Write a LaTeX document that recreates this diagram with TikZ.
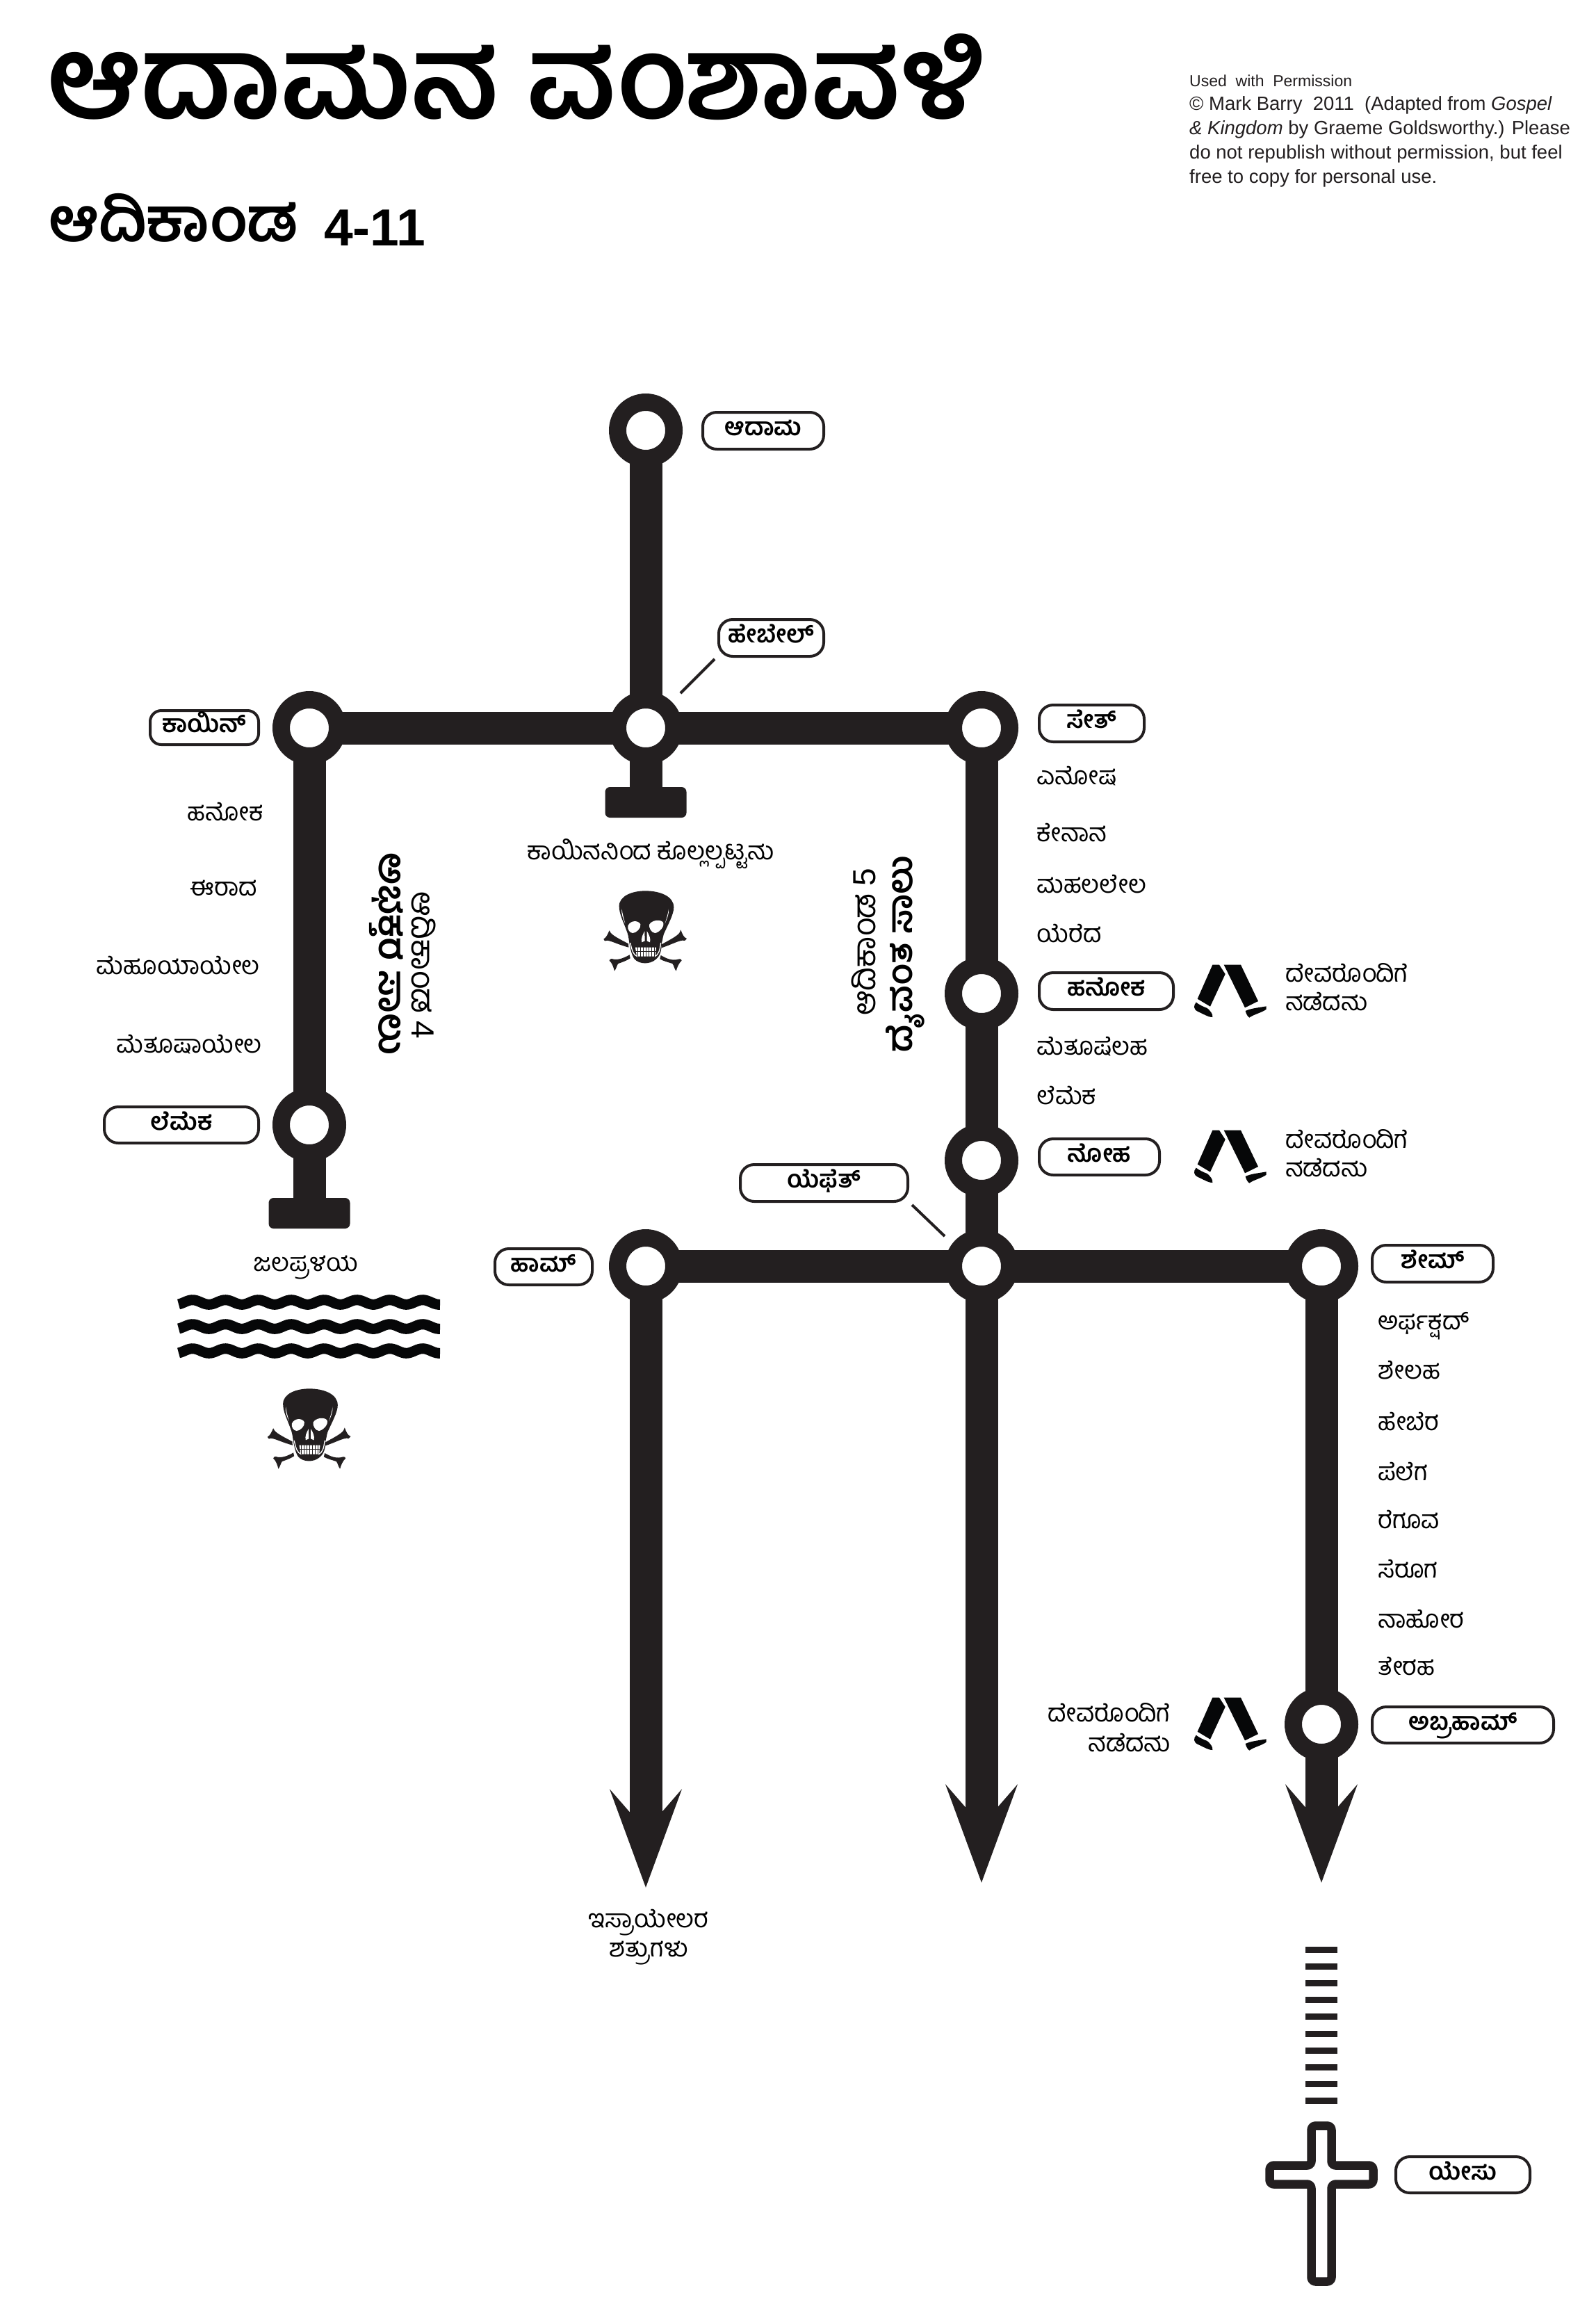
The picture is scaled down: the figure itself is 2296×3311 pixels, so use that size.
\documentclass[tikz,border=0pt]{standalone}
\usepackage{fontspec}
\usetikzlibrary{arrows.meta}
\setmainfont{Liberation Sans}
\newfontfamily\kn[Script=Kannada]{Hind Mysuru}
\definecolor{ink}{HTML}{231F20}
\definecolor{nearblack}{HTML}{060708}
\tikzset{
  hub/.style={circle,draw=ink,line width=25pt,fill=white,minimum size=81pt,inner sep=0pt,outer sep=0pt},
  trunk/.style={draw=ink,line width=47pt},
  stopbar/.style={fill=ink,rounded corners=7pt,minimum width=117pt,minimum height=44pt,inner sep=0pt},
  namebox/.style={draw=ink,line width=4pt,fill=white,rounded corners=20pt,inner sep=0pt,text=black,
     font=\kn\bfseries\fontsize{35}{40}\selectfont,text height=27pt,text depth=13pt},
  person/.style={inner sep=0pt,text=black,font=\kn\fontsize{36}{40}\selectfont,text height=29pt,text depth=11pt},
  leader/.style={draw=ink,line width=4pt},
  vert/.style={inner sep=0pt,text=black,font=\kn\fontsize{50}{56}\selectfont,anchor=center},
  small/.style={inner sep=0pt,anchor=base west,text=ink,font=\fontsize{27.5}{30}\selectfont},
}
\newcommand{\skullmark}[2]{%
\begin{scope}[shift={(#1,#2)},x=0.3333pt,y=-0.3333pt]
 \fill[ink] (50,175) .. controls (55,190) and (70,200) .. (132,232) -- (133,248) .. controls (85,235) and (65,222) .. (40,218) .. controls (35,222) and (28,222) .. (25,212) .. controls (38,205) and (42,190) .. (50,175) -- cycle;
 \fill[ink] (358,172) .. controls (355,190) and (340,200) .. (275,235) -- (275,250) .. controls (320,235) and (340,222) .. (365,218) .. controls (372,222) and (380,218) .. (384,210) .. controls (370,205) and (365,190) .. (358,172) -- cycle;
 \fill[ink] (137,280) .. controls (110,295) and (85,305) .. (60,297) .. controls (55,297) and (50,300) .. (50,305) .. controls (62,315) and (68,335) .. (72,350) .. controls (80,340) and (82,325) .. (88,318) .. controls (105,312) and (125,305) .. (140,295) -- cycle;
 \fill[ink] (272,282) .. controls (295,295) and (320,308) .. (352,298) .. controls (358,297) and (362,300) .. (362,305) .. controls (350,315) and (342,335) .. (338,350) .. controls (330,340) and (328,325) .. (322,318) .. controls (305,312) and (285,308) .. (268,298) -- cycle;
 \fill[ink] (125,178) .. controls (112,140) and (92,105) .. (92,70) .. controls (92,25) and (150,4) .. (205,4) .. controls (270,4) and (328,28) .. (328,75) .. controls (328,105) and (305,145) .. (285,190) .. controls (280,205) and (280,215) .. (276,228) .. controls (275,265) and (268,285) .. (250,300) .. controls (225,322) and (180,322) .. (158,298) .. controls (145,280) and (140,250) .. (135,222) .. controls (133,205) and (130,190) .. (125,178) -- cycle;
 \fill[white] (104,82) .. controls (100,105) and (110,125) .. (118,145) .. controls (112,120) and (106,105) .. (104,82) -- cycle;
 \fill[white] (306,82) .. controls (308,105) and (298,125) .. (290,145) .. controls (297,120) and (303,105) .. (306,82) -- cycle;
 \fill[white] (130,155) .. controls (140,130) and (175,130) .. (184,148) .. controls (188,165) and (165,187) .. (150,186) .. controls (138,185) and (127,170) .. (130,155) -- cycle;
 \fill[white] (222,150) .. controls (232,130) and (270,125) .. (282,140) .. controls (290,160) and (262,185) .. (247,186) .. controls (232,185) and (220,165) .. (222,150) -- cycle;
 \fill[white] (202,178) .. controls (195,190) and (185,210) .. (190,226) -- (203,220) -- cycle;
 \fill[white] (212,178) .. controls (220,190) and (230,210) .. (225,226) -- (212,220) -- cycle;
 \draw[white,line width=1.3pt] (140,228) .. controls (148,262) and (152,280) .. (172,288) (272,228) .. controls (268,262) and (262,280) .. (245,288);
 \fill[white] (162,248) -- (252,248) -- (248,287) -- (168,287) -- cycle;
 \foreach \tx in {172,184,196,208,220,232,244}{\draw[ink,line width=1.3pt] (\tx,246) -- (\tx,289);}
 \draw[ink,line width=1.3pt] (160,266) -- (254,266);
\end{scope}}
\newcommand{\walker}[2]{%
\begin{scope}[shift={(#1,#2)},x=0.3333pt,y=-0.3333pt]
 \fill[nearblack] (103,8) -- (132,8) -- (158,48) -- (93,188) -- (38,155) -- cycle;
 \fill[nearblack] (152,8) -- (225,8) -- (300,165) -- (243,193) -- cycle;
 \fill[nearblack] (32,170) .. controls (20,185) and (20,200) .. (40,210) .. controls (60,218) and (85,235) .. (103,234) .. controls (105,220) and (92,205) .. (80,195) .. controls (65,190) and (45,180) .. (32,170) -- cycle;
 \fill[nearblack] (245,207) .. controls (248,220) and (255,232) .. (262,236) .. controls (280,222) and (315,215) .. (335,200) -- (335,187) .. controls (310,192) and (270,195) .. (245,207) -- cycle;
\end{scope}}
\begin{document}
\begin{tikzpicture}[x=1pt,y=-1pt]
\fill[white] (0,0) rectangle (2296,3311);
\useasboundingbox (0,0) rectangle (2296,3311);
% headings
\node[inner sep=0pt,anchor=base west,font=\kn\bfseries\fontsize{165}{180}\selectfont] (title) at (68,170) {ಆದಾಮನ ವಂಶಾವಳಿ};
\node[inner sep=0pt,anchor=base west,font=\kn\bfseries\fontsize{88}{96}\selectfont] (subtitle) at (70,347) {ಆದಿಕಾಂಡ};
\node[inner sep=0pt,anchor=base west,font=\bfseries\fontsize{75}{80}\selectfont] (subnum) at (466,353) {4-11};
\node[small,font=\fontsize{23}{26}\selectfont] (c0) at (1711,124) {Used\ \ with\ \ Permission};
\node[small] (c1) at (1711,158) {© Mark Barry\ \ 2011\ \ (Adapted from \textit{Gospel}};
\node[small] (c2) at (1711,193) {\textit{\&\ Kingdom} by Graeme Goldsworthy.) Please};
\node[small] (c3) at (1711,228) {do not republish without permission, but feel};
\node[small] (c4) at (1711,263) {free to copy for personal use.};
% hubs
\node[hub] (adam) at (929,619) {};
\node[hub] (abel) at (929,1047) {};
\node[hub] (cain) at (445,1047) {};
\node[hub] (seth) at (1412,1047) {};
\node[hub] (lamech) at (445,1618) {};
\node[hub] (enoch) at (1412,1429) {};
\node[hub] (noah) at (1412,1669) {};
\node[hub] (ham) at (929,1821) {};
\node[hub] (japheth) at (1412,1821) {};
\node[hub] (shem) at (1901,1821) {};
\node[hub] (abraham) at (1901,2480) {};
\node[stopbar] (abelstop) at (929,1154) {};
\node[stopbar] (lamechstop) at (445,1745) {};
\coordinate (hamend) at (929,2715);
\coordinate (japhethend) at (1412,2708);
\coordinate (shemend) at (1901,2708);
% trunks
\draw[trunk] (adam) -- (abel);
\draw[trunk] (cain) -- (abel);
\draw[trunk] (abel) -- (seth);
\draw[trunk] (abel) -- (abelstop);
\draw[trunk] (cain) -- (lamech);
\draw[trunk] (lamech) -- (lamechstop);
\draw[trunk] (seth) -- (enoch);
\draw[trunk] (enoch) -- (noah);
\draw[trunk] (noah) -- (japheth);
\draw[trunk] (ham) -- (japheth);
\draw[trunk] (japheth) -- (shem);
\draw[trunk] (shem) -- (abraham);
\draw[trunk,-{Stealth[length=140pt,width=102pt,inset=58pt]}] (ham) -- (hamend);
\draw[trunk,-{Stealth[length=140pt,width=102pt,inset=58pt]}] (japheth) -- (japhethend);
\draw[trunk,-{Stealth[length=140pt,width=102pt,inset=58pt]}] (abraham) -- (shemend);
% name boxes
\node[namebox,minimum width=174pt,minimum height=53pt] (adamlbl) at (1098,619.5) {ಆದಾಮ};
\node[namebox,minimum width=151pt,minimum height=53pt] (abellbl) at (1109.5,917.5) {ಹೇಬೇಲ್};
\node[namebox,minimum width=156pt,minimum height=49pt,rounded corners=16pt] (cainlbl) at (294,1046.5) {ಕಾಯಿನ್};
\node[namebox,minimum width=222pt,minimum height=52pt] (lamechlbl) at (261,1618) {ಲೆಮೆಕ};
\node[namebox,minimum width=151pt,minimum height=53pt] (sethlbl) at (1570.5,1040.5) {ಸೇತ್};
\node[namebox,minimum width=193pt,minimum height=53pt] (enochlbl) at (1591.5,1425.5) {ಹನೋಕ};
\node[namebox,minimum width=173pt,minimum height=52pt] (noahlbl) at (1581.5,1664) {ನೋಹ};
\node[namebox,minimum width=241pt,minimum height=53pt] (japhethlbl) at (1185.5,1701.5) {ಯೆಫೆತ್};
\node[namebox,minimum width=140pt,minimum height=52pt] (hamlbl) at (782,1822) {ಹಾಮ್};
\node[namebox,minimum width=174pt,minimum height=53pt] (shemlbl) at (2061,1817.5) {ಶೇಮ್};
\node[namebox,minimum width=261pt,minimum height=52pt] (abrahamlbl) at (2104.5,2481) {ಅಬ್ರಹಾಮ್};
\node[namebox,minimum width=193pt,minimum height=52pt] (jesuslbl) at (2104.5,3128) {ಯೇಸು};
\coordinate (abelA) at (1028,948); \coordinate (abelB) at (979,997);
\coordinate (japA) at (1312,1733); \coordinate (japB) at (1359,1778);
\draw[leader] (abelA) -- (abelB);
\draw[leader] (japA) -- (japB);
% Cain's line
\node[person,anchor=east] (c_hanok) at (379,1171) {ಹನೋಕ};
\node[person,anchor=east] (c_irad) at (370,1279) {ಈರಾದ};
\node[person,anchor=east] (c_mehu) at (374,1392) {ಮೆಹೂಯಾಯೇಲ};
\node[person,anchor=east] (c_metu) at (377,1505) {ಮೆತೂಷಾಯೇಲ};
\node[person] (abelnote) at (936,1227) {ಕಾಯಿನನಿಂದ ಕೊಲ್ಲಲ್ಪಟ್ಟನು};
\node[person] (flood) at (440,1819) {ಜಲಪ್ರಳಯ};
% rotated
\node[vert,rotate=-90,font=\kn\fontsize{46}{50}\selectfont] (gen4) at (610,1388) {ಆದಿಕಾಂಡ {\rmfamily 4}};
\node[vert,rotate=-90,font=\kn\bfseries\fontsize{54}{60}\selectfont] (line4) at (556,1372) {ಅಭಕ್ತರ ಸಾಲು};
\node[vert,rotate=90,font=\kn\fontsize{46}{50}\selectfont] (gen5) at (1242,1355) {ಆದಿಕಾಂಡ {\rmfamily 5}};
\node[vert,rotate=90,font=\kn\bfseries\fontsize{50}{56}\selectfont] (line5) at (1302,1372) {ದೈವಂತ ಸಾಲು};
% Seth's line
\node[person,anchor=west] (s_enosh) at (1491,1119) {ಎನೋಷ};
\node[person,anchor=west] (s_kenan) at (1491,1201) {ಕೇನಾನ};
\node[person,anchor=west] (s_mahal) at (1491,1275) {ಮಹಲಲೇಲ};
\node[person,anchor=west] (s_jared) at (1491,1346) {ಯೆರೆದ};
\node[person,anchor=west] (s_metu) at (1491,1508) {ಮೆತೂಷೆಲಹ};
\node[person,anchor=west] (s_lamech) at (1491,1579) {ಲೆಮೆಕ};
\node[person,anchor=west] (w1a) at (1849,1403) {ದೇವರೊಂದಿಗೆ};
\node[person,anchor=west] (w1b) at (1849,1444) {ನಡೆದನು};
\node[person,anchor=west] (w2a) at (1849,1642) {ದೇವರೊಂದಿಗೆ};
\node[person,anchor=west] (w2b) at (1849,1683) {ನಡೆದನು};
\node[person,anchor=east] (w3a) at (1684,2467) {ದೇವರೊಂದಿಗೆ};
\node[person,anchor=east] (w3b) at (1684,2510) {ನಡೆದನು};
% Shem's line
\node[person,anchor=west] (h1) at (1982,1903) {ಅರ್ಫಕ್ಷದ್};
\node[person,anchor=west] (h2) at (1982,1974) {ಶೇಲಹ};
\node[person,anchor=west] (h3) at (1982,2048) {ಹೇಬೆರ};
\node[person,anchor=west] (h4) at (1982,2120) {ಪೆಲೆಗ};
\node[person,anchor=west] (h5) at (1982,2189) {ರೆಗೂವ};
\node[person,anchor=west] (h6) at (1982,2260) {ಸೆರೂಗ};
\node[person,anchor=west] (h7) at (1982,2332) {ನಾಹೋರ};
\node[person,anchor=west] (h8) at (1982,2400) {ತೇರಹ};
\node[person] (enemies1) at (933,2763) {ಇಸ್ರಾಯೇಲರ};
\node[person] (enemies2) at (933,2805) {ಶತ್ರುಗಳು};
% waves
\foreach \wy in {1873,1908,1943}{
  \draw[nearblack,line width=15pt] plot[domain=257:633,samples=140] (\x,{\wy-3.3*cos((\x-277)/47.3*360)});
}
% dashes
\foreach \i in {0,...,9}{
  \fill[ink] (1878,2800+24.1*\i) rectangle (1924,2809+24.1*\i);
}
% cross
\draw[ink,line width=12.5pt,line join=round,fill=white,rounded corners=6pt]
  (1886.5,3114.5) -- (1886.5,3057.5) -- (1915.5,3057.5) -- (1915.5,3114.5) -- (1975.5,3114.5) -- (1975.5,3141.5) -- (1915.5,3141.5) -- (1915.5,3281.5) -- (1886.5,3281.5) -- (1886.5,3141.5) -- (1826.5,3141.5) -- (1826.5,3114.5) -- cycle;
\skullmark{860}{1280}
\skullmark{376.5}{1996}
\walker{1710}{1385}
\walker{1710}{1623}
\walker{1710}{2439}
\end{tikzpicture}
\end{document}
